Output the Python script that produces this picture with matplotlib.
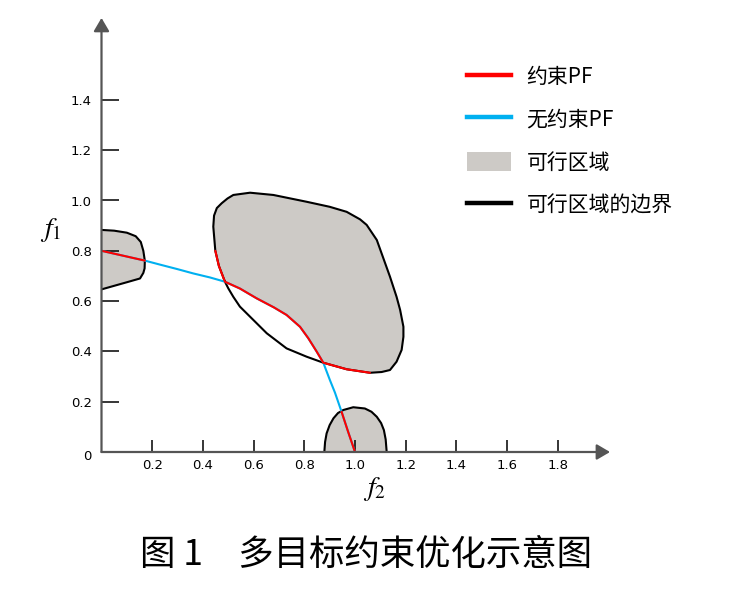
import matplotlib
matplotlib.use('Agg')
import matplotlib.pyplot as plt
from matplotlib.patches import Patch
from matplotlib.lines import Line2D

plt.rcParams['font.family'] = ['Noto Sans CJK SC', 'DejaVu Sans']
plt.rcParams['mathtext.fontset'] = 'stix'

# 无约束PF (整条前沿)
pf_x = [0.0, 0.171, 0.231, 0.300, 0.362, 0.428, 0.487, 0.546, 0.612, 0.680, 0.730,
        0.783, 0.816, 0.849, 0.875, 0.901, 0.921, 0.947, 0.973, 1.0]
pf_y = [0.800, 0.761, 0.745, 0.727, 0.710, 0.694, 0.677, 0.650, 0.611, 0.575, 0.545,
        0.498, 0.452, 0.399, 0.355, 0.286, 0.236, 0.160, 0.080, 0.0]

# 约束PF 各段
cpf1_x = [0.0, 0.171]
cpf1_y = [0.800, 0.761]
cpf2_x = [0.449, 0.463, 0.487, 0.546, 0.612, 0.680, 0.730, 0.783, 0.816, 0.849, 0.875,
          0.967, 1.059]
cpf2_y = [0.800, 0.740, 0.677, 0.650, 0.611, 0.575, 0.545, 0.498, 0.452, 0.399, 0.355,
          0.329, 0.315]
cpf3_x = [0.947, 0.973, 1.0]
cpf3_y = [0.160, 0.080, 0.0]

# 左侧可行区域
left_x = [0.0, 0.05, 0.10, 0.135, 0.155, 0.165, 0.171, 0.170, 0.165, 0.152, 0.10, 0.005, 0.0]
left_y = [0.883, 0.880, 0.872, 0.858, 0.835, 0.800, 0.760, 0.730, 0.712, 0.690, 0.675, 0.648, 0.648]

# 中间大可行区域 (边界, 从PF交点沿左边向上, 顺时针)
blob_x = [0.487, 0.463, 0.449, 0.441, 0.444, 0.455, 0.474, 0.497, 0.520, 0.586, 0.678,
          0.809, 0.900, 0.967, 1.020, 1.046, 1.086, 1.112, 1.138, 1.164, 1.178, 1.191,
          1.191, 1.184, 1.164, 1.138, 1.105, 1.059, 0.967, 0.875,
          0.809, 0.730, 0.652, 0.586, 0.546, 0.520, 0.500, 0.487]
blob_y = [0.677, 0.740, 0.800, 0.896, 0.940, 0.970, 0.989, 1.008, 1.022, 1.031, 1.022,
          0.995, 0.975, 0.955, 0.925, 0.903, 0.843, 0.770, 0.697, 0.617, 0.565, 0.498,
          0.458, 0.406, 0.359, 0.326, 0.318, 0.315, 0.329, 0.355,
          0.379, 0.412, 0.472, 0.538, 0.578, 0.617, 0.651, 0.677]
n_upper = 30  # blob 前 30 个点为灰色区域的上边界

# 下方可行区域
bot_x = [0.879, 0.882, 0.888, 0.900, 0.915, 0.933, 0.954, 0.993, 1.039, 1.065, 1.086,
         1.103, 1.114, 1.121, 1.125]
bot_y = [0.0, 0.040, 0.074, 0.107, 0.134, 0.155, 0.167, 0.178, 0.173, 0.160, 0.140,
         0.115, 0.087, 0.050, 0.0]

xticks = [0.2, 0.4, 0.6, 0.8, 1.0, 1.2, 1.4, 1.6, 1.8]
xticklabels = ['0.2', '0.4', '0.6', '0.8', '1.0', '1.2', '1.4', '1.6', '1.8']
yticks = [0.2, 0.4, 0.6, 0.8, 1.0, 1.2, 1.4]
yticklabels = ['0.2', '0.4', '0.6', '0.8', '1.0', '1.2', '1.4']

legend_labels = ['约束PF', '无约束PF', '可行区域', '可行区域的边界']
caption = '图 1\u3000多目标约束优化示意图'

fill_color = '#cdcac6'
red = '#ff0000'
blue = '#00b0f0'

fig = plt.figure(figsize=(7.53, 6.01), dpi=100)
ax = fig.add_axes([101.5 / 753, 149 / 601, 2.006 * 253.5 / 753, 1.726 * 251.5 / 601])
ax.set_xlim(0, 2.006)
ax.set_ylim(0, 1.726)
for s in ax.spines.values():
    s.set_visible(False)

# 可行区域
ax.fill(left_x, left_y, color=fill_color, lw=0, zorder=1)
up_x = blob_x[:n_upper]
up_y = blob_y[:n_upper]
in_x = [x for x, y in zip(pf_x, pf_y) if 0.487 < x < 0.875][::-1]
in_y = [y for x, y in zip(pf_x, pf_y) if 0.487 < x < 0.875][::-1]
ax.fill(up_x + in_x + [blob_x[0]], up_y + in_y + [blob_y[0]], color=fill_color, lw=0, zorder=1)
ax.fill(bot_x, bot_y, color=fill_color, lw=0, zorder=1)

# 边界
ax.plot(left_x[:-1], left_y[:-1], color='k', lw=1.5, zorder=3)
ax.plot(blob_x, blob_y, color='k', lw=1.5, zorder=3)
ax.plot(bot_x, bot_y, color='k', lw=1.5, zorder=3)

# PF
ax.plot(pf_x, pf_y, color=blue, lw=1.5, zorder=4)
for cx, cy in [(cpf1_x, cpf1_y), (cpf2_x, cpf2_y), (cpf3_x, cpf3_y)]:
    ax.plot(cx, cy, color=red, lw=1.5, zorder=5, solid_capstyle='round')

# 坐标轴 (带箭头)
axis_color = '#555555'
arrow = dict(arrowstyle='-|>,head_length=0.8,head_width=0.47', color=axis_color,
             lw=1.6, mutation_scale=10, shrinkA=0, shrinkB=0)
ax.annotate('', xy=(1, 0), xycoords='axes fraction', xytext=(0, 0),
            arrowprops=arrow, zorder=6, annotation_clip=False)
ax.annotate('', xy=(0, 1), xycoords='axes fraction', xytext=(0, 0),
            arrowprops=arrow, zorder=6, annotation_clip=False)

ax.set_xticks(xticks)
ax.set_xticklabels(xticklabels, family='DejaVu Sans')
ax.set_yticks(yticks)
ax.set_yticklabels(yticklabels, family='DejaVu Sans')
ax.tick_params(axis='x', direction='in', length=8.6, width=1.1, pad=5, labelsize=9.5, colors='k')
ax.tick_params(axis='y', direction='in', length=12, width=1.1, pad=7, labelsize=9.5, colors='k')
ax.annotate('0', xy=(0, 0), xycoords='data', xytext=(-7.5, -3.5), textcoords='offset points',
            ha='right', va='center', fontsize=9.5, family='DejaVu Sans')

ax.text(-0.202, 0.885, r'$f_1$', fontsize=20, ha='center', va='center')
ax.text(1.076, -0.143, r'$f_2$', fontsize=20, ha='center', va='center', clip_on=False)

# 图例
handles = [Line2D([], [], color=red, lw=3.2),
           Line2D([], [], color=blue, lw=3.2),
           Patch(facecolor=fill_color, edgecolor='none'),
           Line2D([], [], color='k', lw=3.2)]
fig.legend(handles, legend_labels, loc='upper left',
           bbox_to_anchor=(467 / 753, 1 - 66 / 601), bbox_transform=fig.transFigure,
           frameon=False, fontsize=15, handlelength=2.1, handleheight=1.05,
           handletextpad=0.75, labelspacing=1.0, borderpad=0, borderaxespad=0)

fig.text(366 / 753, 1 - 555 / 601, caption, fontsize=25.5, ha='center', va='center')

fig.savefig('out.png', dpi=100)
